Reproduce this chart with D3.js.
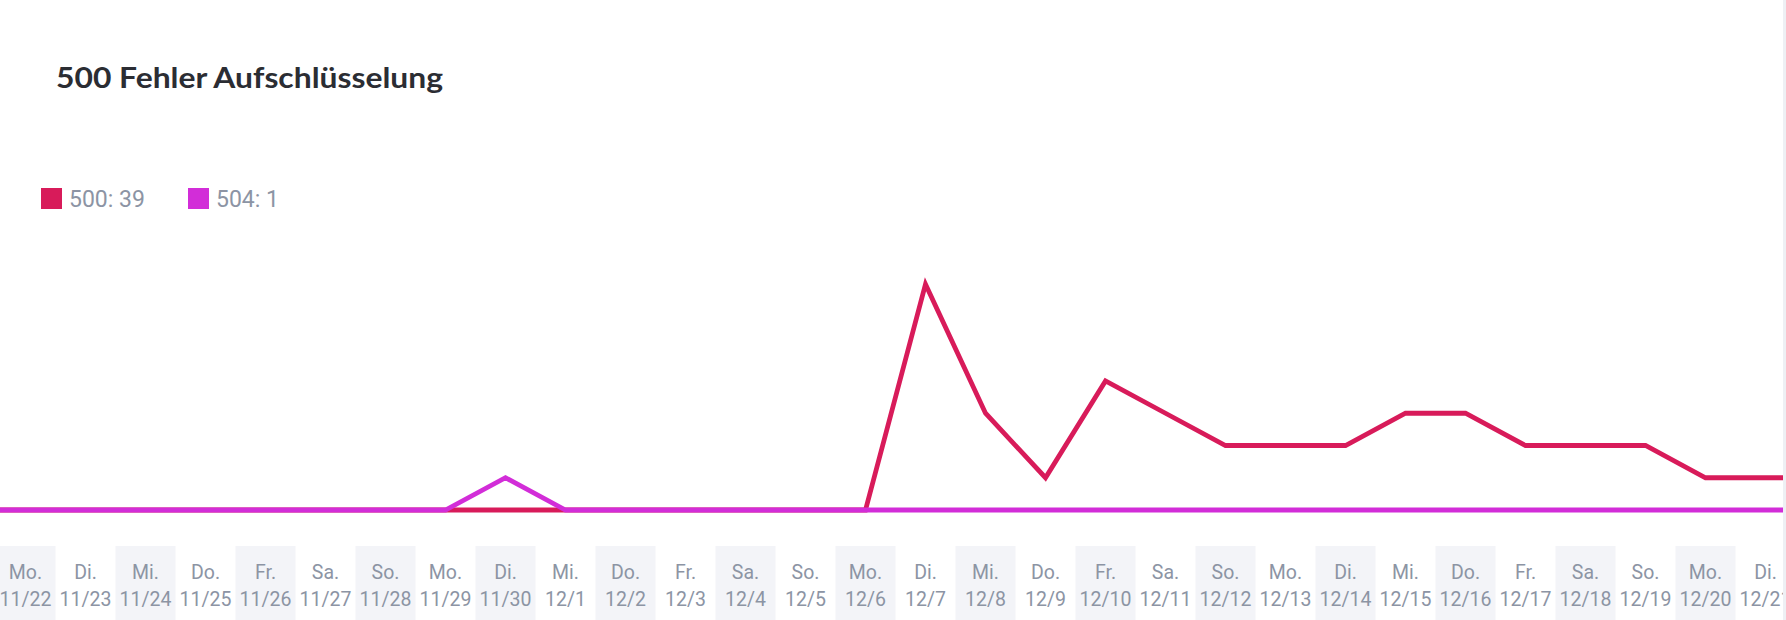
<!DOCTYPE html>
<html>
<head>
<meta charset="utf-8">
<script src="https://cdn.jsdelivr.net/npm/d3@7"></script>
<style>
  body { margin: 0; background: #fff; }
  svg { display: block; }
</style>
</head>
<body>
<div id="chart"></div>
<script>
// dates on the x axis (first and last fall outside the card)
var dates = ["11/21", "11/22", "11/23", "11/24", "11/25", "11/26", "11/27", "11/28", "11/29", "11/30", "12/1",
  "12/2", "12/3", "12/4", "12/5", "12/6", "12/7", "12/8", "12/9", "12/10", "12/11",
  "12/12", "12/13", "12/14", "12/15", "12/16", "12/17", "12/18", "12/19", "12/20", "12/21", "12/22"];
var weekdays = ["So.", "Mo.", "Di.", "Mi.", "Do.", "Fr.", "Sa.", "So.", "Mo.", "Di.", "Mi.",
  "Do.", "Fr.", "Sa.", "So.", "Mo.", "Di.", "Mi.", "Do.", "Fr.", "Sa.",
  "So.", "Mo.", "Di.", "Mi.", "Do.", "Fr.", "Sa.", "So.", "Mo.", "Di.", "Mi."];

// error counts per day
var errors500 = [0, 0, 0, 0, 0, 0, 0, 0, 0, 0, 0,
  0, 0, 0, 0, 0, 7, 3, 1, 4, 3,
  2, 2, 2, 3, 3, 2, 2, 2, 1, 1, 1];
var errors504 = [0, 0, 0, 0, 0, 0, 0, 0, 0, 1, 0,
  0, 0, 0, 0, 0, 0, 0, 0, 0, 0,
  0, 0, 0, 0, 0, 0, 0, 0, 0, 0, 0];

var seriesNames = ["500", "504"];
var seriesColors = ["#d81b5a", "#d22dd8"];

var width = 1786,
  height = 620,
  cardRight = 1783;

var svg = d3.select("#chart").append("svg")
  .attr("width", width)
  .attr("height", height);

svg.append("rect")
  .attr("width", width)
  .attr("height", height)
  .attr("fill", "#fff");

svg.append("defs").append("clipPath")
  .attr("id", "card")
  .append("rect")
  .attr("x", 0)
  .attr("y", 0)
  .attr("width", cardRight)
  .attr("height", height);

var x = d3.scaleBand()
  .domain(dates)
  .range([-64.5, -64.5 + dates.length * 60]);

var y = d3.scaleLinear()
  .domain([0, 8])
  .range([510, 252]);

var card = svg.append("g").attr("clip-path", "url(#card)");

// title
svg.append("text")
  .attr("x", 56)
  .attr("y", 88)
  .attr("font-family", "Lato, 'Open Sans', sans-serif")
  .attr("font-weight", 700)
  .attr("font-size", 28.5)
  .attr("fill", "#2b2d33")
  .attr("textLength", 387)
  .attr("lengthAdjust", "spacingAndGlyphs")
  .text("500 Fehler Aufschlüsselung");

// legend
var totals = [d3.sum(errors500), d3.sum(errors504)];
var legendX = [41, 188];
var legend = svg.append("g").selectAll("g")
  .data(seriesNames)
  .enter().append("g")
  .attr("transform", function (d, i) { return "translate(" + legendX[i] + ",188)"; });

legend.append("rect")
  .attr("width", 21)
  .attr("height", 21)
  .attr("fill", function (d, i) { return seriesColors[i]; });

legend.append("text")
  .attr("x", 28)
  .attr("y", 18.5)
  .attr("font-family", "Roboto, sans-serif")
  .attr("font-size", 23)
  .attr("fill", "#8c94a4")
  .text(function (d, i) { return d + ": " + totals[i]; });

// alternating shaded day columns (Mo. 11/22 is shaded)
card.append("g").selectAll("rect")
  .data(dates.filter(function (d, i) { return i % 2 === 1; }))
  .enter().append("rect")
  .attr("x", function (d) { return x(d); })
  .attr("y", 546)
  .attr("width", x.bandwidth())
  .attr("height", height - 546)
  .attr("fill", "#f3f4f8");

// axis labels
var labels = card.append("g")
  .attr("font-family", "Roboto, sans-serif")
  .attr("font-size", 19.5)
  .attr("fill", "#8c94a4")
  .attr("text-anchor", "middle");

labels.selectAll(".day")
  .data(dates)
  .enter().append("text")
  .attr("class", "day")
  .attr("x", function (d) { return x(d) + x.bandwidth() / 2; })
  .attr("y", 579)
  .text(function (d, i) { return weekdays[i]; });

labels.selectAll(".date")
  .data(dates)
  .enter().append("text")
  .attr("class", "date")
  .attr("x", function (d) { return x(d) + x.bandwidth() / 2; })
  .attr("y", 605.5)
  .text(function (d) { return d; });

// lines
var line = d3.line()
  .x(function (d, i) { return x(dates[i]) + x.bandwidth() / 2; })
  .y(function (d) { return y(d); });

card.selectAll(".series")
  .data([errors500, errors504])
  .enter().append("path")
  .attr("class", "series")
  .attr("d", line)
  .attr("fill", "none")
  .attr("stroke", function (d, i) { return seriesColors[i]; })
  .attr("stroke-width", 4.8);

// card edge
svg.append("rect")
  .attr("x", cardRight)
  .attr("y", 0)
  .attr("width", width - cardRight)
  .attr("height", height)
  .attr("fill", "#eef0f4");
</script>
</body>
</html>
